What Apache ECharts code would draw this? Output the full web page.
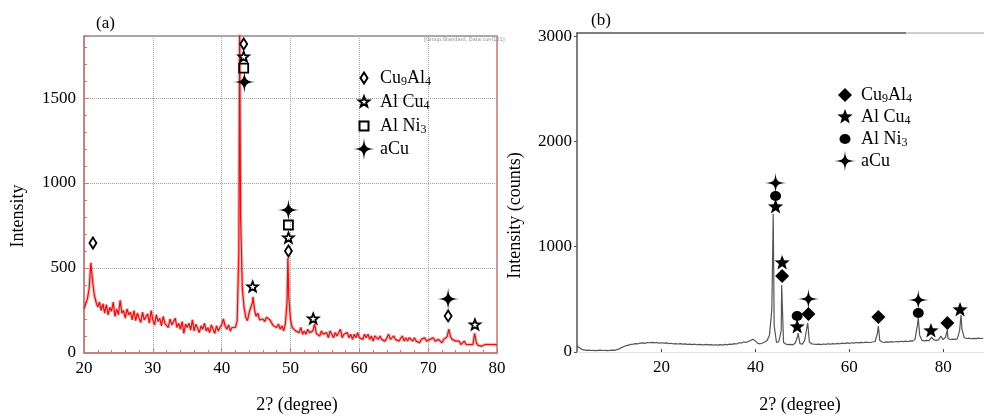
<!DOCTYPE html>
<html>
<head>
<meta charset="utf-8">
<script src="https://cdn.jsdelivr.net/npm/echarts@6/dist/echarts.min.js"></script>
<style>
html,body{margin:0;padding:0;background:#fff;}
#chart{width:984px;height:417px;}
</style>
</head>
<body>
<div id="chart"></div>
<script>
// ---------- Panel (a): red XRD pattern ----------
const aStart = 20, aStep = 0.25;
const aBase = [
  260, 290, 320, 380,   530, 420, 340, 300,
  270, 300, 250, 290,   235, 285, 225, 270,
  245, 300, 215, 260,   225, 310, 235, 250,
  205, 260, 225, 240,   195, 250, 190, 235,
  205, 180, 240, 195,   185, 230, 175, 250,
  195, 165, 225, 185,   205, 160, 215, 175,
  185, 150, 200, 165,   160, 205, 150, 175,
  140, 185, 115, 170,   150, 175, 135, 195,
  130, 170, 145, 120,   160, 140, 175, 130,
  150, 120, 165, 140,   115, 160, 130, 150,
  165, 200, 160, 140,   165, 130, 150, 160,
  150, 190, 600, 800,   380, 270, 210, 190,
  240, 270, 300, 260,   215, 235, 195, 185,
  200, 185, 210, 205,   195, 185, 160, 170,
  150, 170, 140, 160,   130, 170, 300, 330,
  195, 150, 160, 130,   140, 120, 150, 110,
  130, 110, 140, 120,   110, 130, 170, 115,
  115, 100, 130, 110,   100, 120, 90, 130,
  110, 90, 120, 100,    100, 140, 90, 110,
  100, 120, 90, 110,    80, 110, 90, 120,
  90, 100, 80, 110,     90, 110, 80, 100,
  70, 100, 90, 80,      100, 80, 90, 70,
  90, 110, 80, 70,      100, 80, 90, 70,
  80, 100, 70, 90,      70, 90, 80, 70,
  90, 70, 80, 60,       80, 70, 90, 70,
  60, 80, 70, 90,       70, 60, 80, 70,
  60, 80, 70, 95,       140, 95, 80, 70,
  70, 60, 70, 50,       60, 70, 50, 60,
  50, 60, 50, 115,      60, 45, 50, 40,
  40, 50, 60, 50,       40, 50, 40, 50,
  45
];
const aPeaks = [[42.6, 1950], [44.55, 330], [49.62, 560]];
const aXTicks = [20, 30, 40, 50, 60, 70, 80];
const aYTicks = [0, 500, 1000, 1500];
// marker positions (angle, intensity)
const aCu9Al4 = [[21.3, 647], [43.2, 1818], [49.7, 600], [72.9, 218]];
const aAlCu4  = [[43.2, 1741], [44.5, 388], [49.7, 676], [53.3, 200], [76.8, 165]];
const aAlNi3  = [[43.2, 1676], [49.7, 753]];
const aACu    = [[43.3, 1594], [49.7, 841], [72.9, 318]];

// ---------- Panel (b): grey XRD pattern ----------
const bStart = 2, bStep = 0.5;
const bBase = [
  60, 40, 25, 20, 15, 18, 14, 16, 13, 15,
  17, 14, 16, 13, 15, 18, 16, 22, 30, 42,
  52, 60, 66, 72, 75, 80, 78, 84, 86, 82,
  90, 88, 92, 87, 90, 85, 88, 84, 86, 80,
  83, 78, 80, 76, 79, 74, 77, 72, 75, 70,
  74, 69, 72, 70, 68, 72, 67, 70, 66, 69,
  65, 70, 66, 72, 68, 75, 72, 80, 76, 88,
  85, 95, 92, 100, 110, 122, 105, 82, 78, 85,
  95, 110, 160, 400, 250, 90, 100, 200, 90, 75,
  70, 72, 68, 85, 150, 80, 75, 110, 240, 95,
  78, 74, 72, 75, 70, 76, 72, 78, 74, 80,
  76, 82, 78, 84, 80, 86, 82, 88, 84, 90,
  86, 92, 88, 94, 90, 92, 95, 100, 180, 110,
  95, 92, 96, 93, 98, 95, 100, 96, 102, 98,
  104, 100, 106, 104, 120, 250, 160, 110, 105, 110,
  108, 140, 115, 110, 115, 150, 118, 140, 130, 118,
  122, 120, 125, 200, 220, 135, 128, 132, 126, 130,
  127, 131, 128, 130
];
const bPeaks = [[43.8, 1311], [45.6, 637], [49.1, 180], [51.15, 275], [66.2, 247], [74.7, 323], [80.9, 209], [83.8, 352]];
const bXTicks = [20, 40, 60, 80];
const bYTicks = [0, 1000, 2000, 3000];
const bCu9Al4 = [[45.7, 722], [51.3, 361], [66.2, 333], [80.9, 276]];
const bAlCu4  = [[44.3, 1378], [45.7, 846], [48.9, 238], [77.4, 200], [83.6, 399]];
const bAlNi3  = [[44.3, 1482], [48.9, 342], [74.7, 371]];
const bACu    = [[44.3, 1606], [51.3, 504], [74.7, 494]];

const phaseLabels = {
  Cu9Al4: '{n|Cu}{s|9}{n|Al}{s|4}',
  AlCu4: '{n|Al Cu}{s|4}',
  AlNi3: '{n|Al Ni}{s|3}',
  aCu: '{n|aCu}'
};

function merge(start, step, base, peaks) {
  const pts = base.map((v, i) => [+(start + i * step).toFixed(2), v]);
  return pts.concat(peaks).sort((p, q) => p[0] - q[0]);
}

// symbols, all drawn in a 22x22 box so that one symbolSize keeps relative sizes
const BOX = 'M-11,-11 M11,11 ';
const SYM = {
  diamondA: 'path://' + BOX + 'M0,-5.5 L3.5,0 L0,5.5 L-3.5,0 Z',
  starA: 'path://' + BOX + 'M0,-5.5 L1.35,-1.86 L5.23,-1.7 L2.19,0.71 L3.23,4.45 L0,2.3 L-3.23,4.45 L-2.19,0.71 L-5.23,-1.7 L-1.35,-1.86 Z',
  squareA: 'path://' + BOX + 'M-4.5,-4.5 L4.5,-4.5 L4.5,4.5 L-4.5,4.5 Z',
  sparkA: 'path://' + BOX + 'M0,-11 C0.8,-2 2,-0.8 11,0 C2,0.8 0.8,2 0,11 C-0.8,2 -2,0.8 -11,0 C-2,-0.8 -0.8,-2 0,-11 Z',
  diamondB: 'path://' + BOX + 'M0,-7 L7,0 L0,7 L-7,0 Z',
  starB: 'path://' + BOX + 'M0,-8 L1.96,-2.71 L7.61,-2.47 L3.19,1.03 L4.7,6.47 L0,3.35 L-4.7,6.47 L-3.19,1.03 L-7.61,-2.47 L-1.96,-2.71 Z',
  circleB: 'path://' + BOX + 'M-5.5,0 A5.5,5,0,1,0,5.5,0 A5.5,5,0,1,0,-5.5,0 Z',
  sparkB: 'path://' + BOX + 'M0,-10.5 C0.7,-1.6 1.6,-0.7 11,0 C1.6,0.7 0.7,1.6 0,10.5 C-0.7,1.6 -1.6,0.7 -11,0 C-1.6,-0.7 -0.7,-1.6 0,-10.5 Z'
};

const FONT = 'Liberation Serif';
const hollow = { color: 'rgba(255,255,255,0)', borderColor: '#000', borderWidth: 1.8, opacity: 1 };
const solid = { color: '#000', borderWidth: 0, opacity: 1 };

function marker(name, xi, yi, data, symbol, style) {
  return {
    name: name, type: 'scatter', xAxisIndex: xi, yAxisIndex: yi,
    data: data, symbol: symbol, symbolSize: 22, symbolKeepAspect: true,
    itemStyle: style, z: 5, silent: true
  };
}

const legendText = {
  fontFamily: FONT, color: '#000',
  rich: {
    n: { fontFamily: FONT, fontSize: 18, color: '#000' },
    s: { fontFamily: FONT, fontSize: 12, color: '#000', padding: [8, 0, 0, 0] }
  }
};
const legendFmt = name => phaseLabels[name.split('-')[1]];
const plain = v => String(v);

const axisFont = { fontFamily: FONT, fontSize: 17, color: '#000' };
const nameFont = { fontFamily: FONT, fontSize: 18, color: '#000' };
const redFrame = '#c47a7a';

const option = {
  backgroundColor: '#fff',
  animation: false,
  title: [
    { text: '(a)', left: 91, top: 10, textStyle: { fontFamily: FONT, fontSize: 17, fontWeight: 'normal', color: '#000' } },
    { text: '(b)', left: 586, top: 7, textStyle: { fontFamily: FONT, fontSize: 17, fontWeight: 'normal', color: '#000' } }
  ],
  legend: [
    { data: ['a-Cu9Al4', 'a-AlCu4', 'a-AlNi3', 'a-aCu'], orient: 'vertical', left: 352, top: 66,
      itemWidth: 22, itemHeight: 22, itemGap: 0, padding: 0, selectedMode: false,
      itemStyle: { opacity: 1 },
      formatter: legendFmt, textStyle: legendText },
    { data: ['b-Cu9Al4', 'b-AlCu4', 'b-AlNi3', 'b-aCu'], orient: 'vertical', left: 834, top: 84,
      itemWidth: 22, itemHeight: 22, itemGap: 0, padding: 0, selectedMode: false,
      itemStyle: { opacity: 1 },
      formatter: legendFmt, textStyle: legendText }
  ],
  grid: [
    { left: 84, top: 36, width: 413, height: 317, show: true, borderColor: redFrame, borderWidth: 1.5, outerBoundsMode: 'none', containLabel: false },
    { left: 577, top: 33, right: 0, height: 319, outerBoundsMode: 'none', containLabel: false }
  ],
  xAxis: [
    { gridIndex: 0, type: 'value', min: 20, max: 80, interval: 10,
      name: '2? (degree)', nameLocation: 'middle', nameGap: 43,
      nameTextStyle: Object.assign({ padding: [0, 0, 0, 13] }, nameFont),
      axisLine: { lineStyle: { color: redFrame, width: 1.5 } },
      axisTick: { inside: true, length: 5, lineStyle: { color: redFrame } },
      minorTick: { show: true, splitNumber: 5, length: 3, lineStyle: { color: redFrame } },
      axisLabel: Object.assign({ margin: 7, customValues: aXTicks, formatter: plain }, axisFont),
      splitLine: { show: true, lineStyle: { color: '#a0a0a0', type: 'dotted', width: 1 } } },
    { gridIndex: 1, type: 'value', min: 2, max: 88.7,
      name: '2? (degree)', nameLocation: 'middle', nameGap: 44,
      nameTextStyle: Object.assign({ padding: [0, 0, 0, 39] }, nameFont),
      axisLine: { show: true, lineStyle: { color: '#e4e4e4', width: 1 } },
      axisTick: { show: true, inside: true, length: 3, customValues: bXTicks, lineStyle: { color: '#444' } },
      axisLabel: Object.assign({ margin: 7, customValues: bXTicks, formatter: plain }, axisFont),
      splitLine: { show: false } },
    { gridIndex: 1, type: 'value', position: 'top', min: 2, max: 88.7,
      axisLine: { show: true, onZero: false, lineStyle: { color: '#555', width: 1.5 } },
      axisTick: { show: false }, axisLabel: { show: false }, splitLine: { show: false } }
  ],
  yAxis: [
    { gridIndex: 0, type: 'value', min: 0, max: 1865, interval: 500,
      name: 'Intensity', nameLocation: 'middle', nameGap: 57,
      nameTextStyle: Object.assign({ padding: [0, 43, 0, 0] }, nameFont),
      axisLine: { show: true, lineStyle: { color: redFrame, width: 1.5 } },
      axisTick: { show: true, inside: true, length: 5, lineStyle: { color: redFrame } },
      minorTick: { show: true, splitNumber: 5, length: 3, lineStyle: { color: redFrame } },
      axisLabel: Object.assign({ margin: 8, customValues: aYTicks, formatter: plain }, axisFont),
      splitLine: { show: true, lineStyle: { color: '#a0a0a0', type: 'dotted', width: 1 } } },
    { gridIndex: 1, type: 'value', min: 0, max: 3030, interval: 1000,
      name: 'Intensity (counts)', nameLocation: 'middle', nameGap: 53,
      nameTextStyle: Object.assign({ padding: [0, 46, 0, 0] }, nameFont),
      axisLine: { show: true, lineStyle: { color: '#555', width: 1.5 } },
      axisTick: { show: true, inside: false, length: 3, customValues: bYTicks, lineStyle: { color: '#555' } },
      axisLabel: Object.assign({ margin: 5, customValues: bYTicks, formatter: plain }, axisFont),
      splitLine: { show: false } }
  ],
  graphic: [
    { type: 'line', z: 100, shape: { x1: 906, y1: 33, x2: 984, y2: 33 }, style: { stroke: '#cfcfcf', lineWidth: 2 } },
    { type: 'text', z: 100, left: 424, top: 37, style: { text: '[Group:Standard, Data:cuef121]', fontSize: 5, fontFamily: 'DejaVu Sans', fill: '#888' } }
  ],
  series: [
    { name: 'pattern a halo', type: 'line', xAxisIndex: 0, yAxisIndex: 0, data: merge(aStart, aStep, aBase, aPeaks),
      showSymbol: false, clip: true, lineStyle: { color: 'rgba(205,130,130,0.5)', width: 3.5 }, z: 2, silent: true },
    { name: 'pattern a', type: 'line', xAxisIndex: 0, yAxisIndex: 0, data: merge(aStart, aStep, aBase, aPeaks),
      showSymbol: false, clip: true, lineStyle: { color: '#e41010', width: 1.2 }, z: 3, silent: true },
    marker('a-Cu9Al4', 0, 0, aCu9Al4, SYM.diamondA, hollow),
    marker('a-AlCu4', 0, 0, aAlCu4, SYM.starA, hollow),
    marker('a-AlNi3', 0, 0, aAlNi3, SYM.squareA, hollow),
    marker('a-aCu', 0, 0, aACu, SYM.sparkA, solid),
    { name: 'pattern b', type: 'line', xAxisIndex: 1, yAxisIndex: 1, data: merge(bStart, bStep, bBase, bPeaks),
      showSymbol: false, clip: true, lineStyle: { color: '#555', width: 1.2 }, z: 3, silent: true },
    marker('b-Cu9Al4', 1, 1, bCu9Al4, SYM.diamondB, solid),
    marker('b-AlCu4', 1, 1, bAlCu4, SYM.starB, solid),
    marker('b-AlNi3', 1, 1, bAlNi3, SYM.circleB, solid),
    marker('b-aCu', 1, 1, bACu, SYM.sparkB, solid)
  ]
};

const chart = echarts.init(document.getElementById('chart'), null, { renderer: 'canvas' });
chart.setOption(option);
</script>
</body>
</html>
